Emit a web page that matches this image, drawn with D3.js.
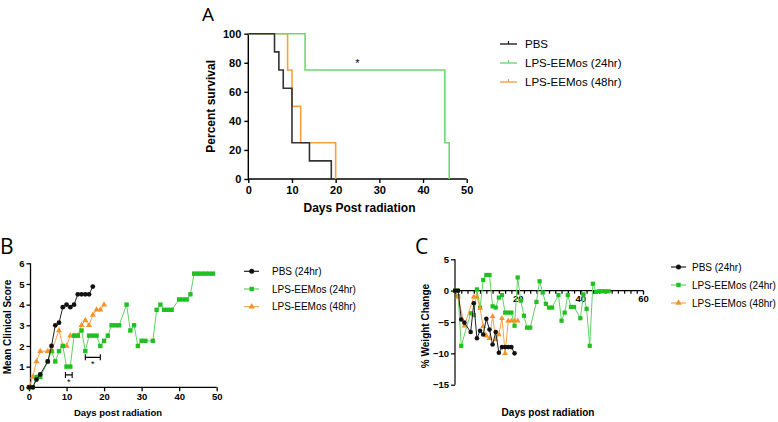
<!DOCTYPE html>
<html><head><meta charset="utf-8">
<script src="https://cdn.jsdelivr.net/npm/d3@7"></script>
<style>
body{margin:0;background:#fff;}
svg{display:block;font-family:"Liberation Sans",Arial,sans-serif;}
</style></head>
<body><svg id="c" width="778" height="422"></svg>
<script>
// ---------- Panel A: survival ----------
const seriesNamesA = ["PBS","LPS-EEMos (24hr)","LPS-EEMos (48hr)"];
const pbsTimes = [0,6,7,8,10,14,19];
const pbsSurv  = [100,87.5,75,62.5,25,12.5,0];
const l24Times = [0,13,45,46];
const l24Surv  = [100,75,25,0];
const l48Times = [0,9,10,12,20];
const l48Surv  = [100,75,50,25,0];
const aXTicks = [0,10,20,30,40,50];
const aYTicks = [0,20,40,60,80,100];

// ---------- Panel B: clinical score ----------
const seriesNamesB = ["PBS (24hr)","LPS-EEMos (24hr)","LPS-EEMos (48hr)"];
const bPbsDays  = [0,1,2,3,5,6,7,8,9,10,11,12,13,14,15,16,17];
const bPbsScore = [0,0,0.375,0.625,1.25,2,3,3.125,3.875,4,3.875,4,4.5,4.5,4.5,4.5,4.875];
const bL24Days  = [0,1,2,3,5,6,7,8,9,10,11,12,13,14,15,16,17,18,19,20,21,22,23,24,26,27,28,29,30,31,33,34,35,36,37,38,40,41,42,43,44,45,46,47,48,49];
const bL24Score = [0,0,0.5,0.5,1.25,1.75,1.25,1.75,2,1,1,2.5,2.5,2.75,1.75,2.5,2.5,2.5,2,2.25,2.5,3,3,3,4,2.75,3,2,2.25,2.25,2.25,3.75,4,3.75,3.75,3.75,4.25,4.25,4.25,4.5,5.5,5.5,5.5,5.5,5.5,5.5];
const bL48Days  = [0,1,2,3,5,6,8,9,10,11,12,13,14,15,16,17,18,19,20];
const bL48Score = [0,0.5,1.25,1.75,1.75,1.75,2.75,2,2,2.5,2.5,2.5,3,3.25,3,3.5,3.75,3.75,4];
const bXTicks = [0,10,20,30,40,50];
const bYTicks = [0,1,2,3,4,5,6];
const bSigBrackets = [[9.7,11.5,0.6],[15,19,1.45]];

// ---------- Panel C: weight change ----------
const seriesNamesC = ["PBS (24hr)","LPS-EEMos (24hr)","LPS-EEMos (48hr)"];
const cPbsDays = [0,1,2,3,5,6,7,8,9,10,11,12,13,14,15,16,17,18,19];
const cPbsVal  = [0,0,-4.6,-5.1,-6.6,-2.0,-7.6,-6.4,-7.0,-4.5,-6.2,-8.6,-6.6,-9.9,-9,-9,-9,-9,-10];
const cL24Days = [0,1,2,5,6,7,8,9,10,11,12,13,14,15,16,17,18,19,20,21,22,23,24,26,27,28,29,30,31,33,34,35,36,37,38,40,41,42,43,44,45,46,47,48,49];
const cL24Val  = [0,-0.9,-8.8,-3.6,-3.9,0.2,-2.7,1.7,2.5,2.5,-2.5,-2.7,-1.1,-0.7,-3.5,-3.5,-3.5,-5.6,2.1,-1.6,-4.0,-5.9,-5.9,-1.8,1.5,-0.3,-2.1,-2.7,-2.7,-0.7,-4.8,-3.5,-0.7,-2.6,-2.6,-4.4,-0.6,-2.9,-8.8,1.1,-0.2,-0.1,-0.1,-0.1,-0.1];
const cL48Days = [0,1,3,6,7,8,9,10,11,12,13,14,15,16,17,18,19,20];
const cL48Val  = [0,-1,-5.6,-1,-1,-2.8,-5.7,-7.2,-7.6,-4.1,-7.8,-7,-4.4,-10,-4.8,-4.8,-4.8,-4.8];
const cXTicks = [20,40,60];
const cXMinor = d3.range(0,62,2);
const cYTicks = [5,0,-5,-10,-15];

const BLACK="#111", GREEN="#1fc01f", GREENL="#62d262", ORANGE="#f7922a", ORANGEL="#f5a24a";

const svg = d3.select("#c");
const zip=(a,b)=>a.map((d,i)=>[d,b[i]]);
const fmt = d3.format("d");

// ================= Panel A =================
{
  const g = svg.append("g");
  const x = d3.scaleLinear().domain([0,50]).range([248.3,466.7]);
  const y = d3.scaleLinear().domain([0,100]).range([179,33.7]);
  g.append("text").attr("x",202).attr("y",21).attr("font-size",19).attr("font-family","'Open Sans',sans-serif").text("A");
  const ax = g.append("g").attr("transform","translate(0,179)").call(d3.axisBottom(x).tickValues(aXTicks).tickFormat(fmt).tickSize(4).tickPadding(3));
  const ay = g.append("g").attr("transform","translate(248.3,0)").call(d3.axisLeft(y).tickValues(aYTicks).tickFormat(fmt).tickSize(4).tickPadding(3));
  [ax,ay].forEach(a=>{a.selectAll("path,line").attr("stroke","#000").attr("stroke-width",1.4);
    a.selectAll("text").attr("font-size",11).attr("font-weight","bold").attr("fill","#000").attr("font-family","'Liberation Sans',Arial,sans-serif");});
  ax.select(".domain").attr("d",`M${x(0)},0H${x(50)}`);
  ay.select(".domain").attr("d",`M0,${y(0)}V${y(100)}`);
  const line = d3.line().x(d=>x(d[0])).y(d=>y(d[1])).curve(d3.curveStepAfter);
  [[l48Times,l48Surv,"#f7a040"],[l24Times,l24Surv,"#6fd86f"],[pbsTimes,pbsSurv,"#333"]].forEach(([t,s,c])=>{
    g.append("path").attr("d",line(zip(t,s))).attr("fill","none").attr("stroke",c).attr("stroke-width",1.6);
  });
  g.append("text").attr("x",x(25)).attr("y",y(80)+4).attr("text-anchor","middle").attr("font-size",11).text("*");
  g.append("text").attr("transform",`translate(${x(25)+2},212)`).attr("text-anchor","middle").attr("font-size",12).attr("font-weight","bold").text("Days Post radiation");
  g.append("text").attr("transform",`translate(215,${y(50)}) rotate(-90)`).attr("text-anchor","middle").attr("font-size",12).attr("font-weight","bold").text("Percent survival");
  const lc=["#222","#6fd86f","#f7a040"];
  seriesNamesA.forEach((n,i)=>{
    const yy=44+i*19;
    g.append("line").attr("x1",500).attr("x2",517).attr("y1",yy).attr("y2",yy).attr("stroke",lc[i]).attr("stroke-width",1.4);
    g.append("line").attr("x1",508.5).attr("x2",508.5).attr("y1",yy-3).attr("y2",yy).attr("stroke",lc[i]).attr("stroke-width",1.2);
    g.append("text").attr("x",525).attr("y",yy+4).attr("font-size",11.5).text(n);
  });
}

// marker helper
function marker(sel,type,cx,cy,col,s){
  if(type==="circle") sel.append("circle").attr("cx",cx).attr("cy",cy).attr("r",s/2+0.3).attr("fill",col);
  else if(type==="square") sel.append("rect").attr("x",cx-s/2).attr("y",cy-s/2).attr("width",s).attr("height",s).attr("fill",col);
  else sel.append("path").attr("d",d3.symbol(d3.symbolTriangle,s*s*0.9)()).attr("transform",`translate(${cx},${cy})`).attr("fill",col);
}

// ================= Panel B =================
{
  const g = svg.append("g");
  const x = d3.scaleLinear().domain([0,50]).range([29,216.7]);
  const y = d3.scaleLinear().domain([0,6]).range([387.3,263.3]);
  g.append("text").attr("x",0).attr("y",254).attr("font-size",21).attr("font-family","'Open Sans',sans-serif").text("B");
  const ax = g.append("g").attr("transform","translate(0,387.3)").call(d3.axisBottom(x).tickValues(bXTicks).tickFormat(fmt).tickSize(4).tickPadding(2));
  const ay = g.append("g").attr("transform","translate(30.5,0)").call(d3.axisLeft(y).tickValues(bYTicks).tickFormat(fmt).tickSize(4).tickPadding(2));
  [ax,ay].forEach(a=>{a.selectAll("path,line").attr("stroke","#000").attr("stroke-width",1.3);
    a.selectAll("text").attr("font-size",9.5).attr("font-weight","bold").attr("fill","#000").attr("font-family","'Liberation Sans',Arial,sans-serif");});
  ax.select(".domain").attr("d",`M${x(0)},0H${x(50)}`);
  ay.select(".domain").attr("d",`M0,${y(0)}V${y(6)}`);
  const line = d3.line().x(d=>x(d[0])).y(d=>y(d[1]));
  const ser=[[bL48Days,bL48Score,ORANGE,ORANGEL,"tri"],[bL24Days,bL24Score,GREEN,GREENL,"square"],[bPbsDays,bPbsScore,BLACK,"#222","circle"]];
  ser.forEach(([dd,vv,c,lc,t])=>{
    g.append("path").attr("d",line(zip(dd,vv))).attr("fill","none").attr("stroke",lc).attr("stroke-width",1);
    zip(dd,vv).forEach(p=>marker(g,t,x(p[0]),y(p[1]),c,t==="square"?4.4:4.2));
  });
  bSigBrackets.forEach(([a,b,v])=>{
    const yy=y(v);
    g.append("path").attr("d",`M${x(a)},${yy-3}V${yy+3}M${x(a)},${yy}H${x(b)}M${x(b)},${yy-3}V${yy+3}`).attr("stroke","#000").attr("stroke-width",1.1).attr("fill","none");
    g.append("text").attr("x",(x(a)+x(b))/2).attr("y",yy+10).attr("text-anchor","middle").attr("font-size",9).text("*");
  });
  g.append("text").attr("x",118).attr("y",416).attr("text-anchor","middle").attr("font-size",9.5).attr("font-weight","bold").text("Days post radiation");
  g.append("text").attr("transform",`translate(11,327) rotate(-90)`).attr("text-anchor","middle").attr("font-size",10).attr("font-weight","bold").text("Mean Clinical Score");
  const mk=[["circle",BLACK,"#222"],["square",GREEN,GREENL],["tri",ORANGE,ORANGEL]];
  seriesNamesB.forEach((n,i)=>{
    const yy=271.3+i*17.7;
    g.append("line").attr("x1",244).attr("x2",259).attr("y1",yy).attr("y2",yy).attr("stroke",mk[i][2]).attr("stroke-width",1.2);
    marker(g,mk[i][0],251.7,yy,mk[i][1],4.4);
    g.append("text").attr("x",272).attr("y",yy+3.5).attr("font-size",10).text(n);
  });
}

// ================= Panel C =================
{
  const g = svg.append("g");
  const x = d3.scaleLinear().domain([0,60]).range([455,643]);
  const y = d3.scaleLinear().domain([-15,5]).range([384.7,259.3]);
  g.append("text").attr("x",415).attr("y",254).attr("font-size",21).attr("font-family","'Open Sans',sans-serif").text("C");
  const axm = g.append("g").attr("transform",`translate(0,${y(0)})`).call(d3.axisBottom(x).tickValues(cXMinor).tickSize(3).tickFormat(""));
  const ax = g.append("g").attr("transform",`translate(0,${y(0)})`).call(d3.axisBottom(x).tickValues(cXTicks).tickFormat(fmt).tickSize(4).tickPadding(1));
  const ay = g.append("g").attr("transform",`translate(455,0)`).call(d3.axisLeft(y).tickValues(cYTicks).tickFormat(fmt).tickSize(4).tickPadding(2));
  [axm,ax,ay].forEach(a=>{a.selectAll("path,line").attr("stroke","#000").attr("stroke-width",1.2);
    a.selectAll("text").attr("font-size",9.5).attr("font-weight","bold").attr("fill","#000").attr("font-family","'Liberation Sans',Arial,sans-serif");});
  ax.select(".domain").attr("d",`M${x(0)},0H${x(60)}`);
  axm.select(".domain").remove();
  ay.select(".domain").attr("d",`M0,${y(-15)}V${y(5)}`);
  const line = d3.line().x(d=>x(d[0])).y(d=>y(d[1]));
  const ser=[[cL24Days,cL24Val,GREEN,GREENL,"square"],[cL48Days,cL48Val,ORANGE,ORANGEL,"tri"],[cPbsDays,cPbsVal,BLACK,"#222","circle"]];
  ser.forEach(([dd,vv,c,lc,t])=>{
    g.append("path").attr("d",line(zip(dd,vv))).attr("fill","none").attr("stroke",lc).attr("stroke-width",1);
    zip(dd,vv).forEach(p=>marker(g,t,x(p[0]),y(p[1]),c,t==="square"?4.2:4.0));
  });
  g.append("text").attr("x",548).attr("y",416).attr("text-anchor","middle").attr("font-size",10).attr("font-weight","bold").text("Days post radiation");
  g.append("text").attr("transform",`translate(429,326) rotate(-90)`).attr("text-anchor","middle").attr("font-size",10).attr("font-weight","bold").text("% Weight Change");
  const mk=[["circle",BLACK,"#222"],["square",GREEN,GREENL],["tri",ORANGE,ORANGEL]];
  seriesNamesC.forEach((n,i)=>{
    const yy=267+i*18;
    g.append("line").attr("x1",671).attr("x2",686).attr("y1",yy).attr("y2",yy).attr("stroke",mk[i][2]).attr("stroke-width",1.2);
    marker(g,mk[i][0],678.5,yy,mk[i][1],4.4);
    g.append("text").attr("x",692).attr("y",yy+3.5).attr("font-size",10).text(n);
  });
}
</script></body></html>
